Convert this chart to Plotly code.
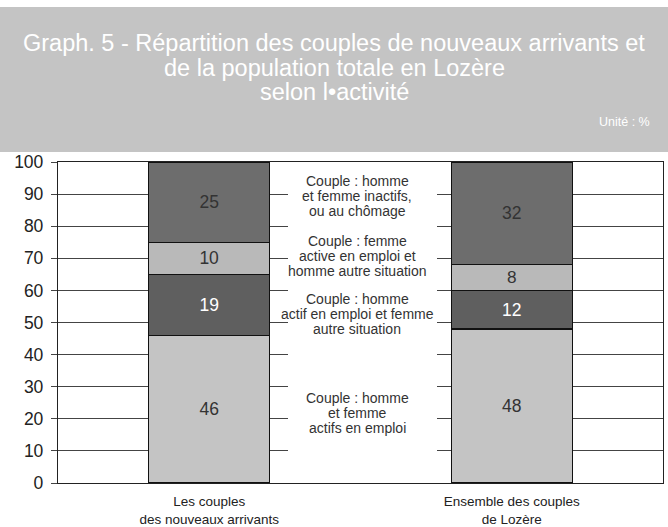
import plotly.graph_objects as go

# Categories (x axis) and stacked shares in %
categories = ["Les couples<br>des nouveaux arrivants", "Ensemble des couples<br>de Lozère"]
actifs_en_emploi = [46, 48]
homme_actif_emploi = [19, 12]
femme_active_emploi = [10, 8]
inactifs_chomage = [25, 32]

y_ticks = [0, 10, 20, 30, 40, 50, 60, 70, 80, 90, 100]

title_lines = [
    "Graph. 5 - Répartition des couples de nouveaux arrivants et",
    "de la population totale en Lozère",
    "selon l•activité",
]
unit_label = "Unité : %"

# Segment captions, bottom to top, with the y value of their middle line
segment_captions = [
    (["Couple : homme", "et femme", "actifs en emploi"], 21.7),
    (["Couple : homme", "actif en emploi et femme", "autre situation"], 52.8),
    (["Couple : femme", "active en emploi et", "homme autre situation"], 70.7),
    (["Couple : homme", "et femme inactifs,", "ou au chômage"], 89.3),
]

W, H = 668, 527
L, R, T, B = 58, 5, 162, 44
PW, PH = W - L - R, H - T - B


def px_x(x):
    return (x - L) / PW


def px_y(y):
    return (H - B - y) / PH


FONT = "Liberation Sans, Arial, sans-serif"

series = [
    (actifs_en_emploi, "#c4c4c4", "#333333"),
    (homme_actif_emploi, "#5f5f5f", "#ffffff"),
    (femme_active_emploi, "#b9b9b9", "#333333"),
    (inactifs_chomage, "#6d6d6d", "#333333"),
]

fig = go.Figure()
for values, color, txt_color in series:
    fig.add_trace(go.Bar(
        x=categories,
        y=values,
        text=[str(v) for v in values],
        textposition="inside",
        insidetextanchor="middle",
        textangle=0,
        textfont=dict(family=FONT, size=17.5, color=txt_color),
        marker=dict(color=color, line=dict(color="#111111", width=1.3)),
        showlegend=False,
        hoverinfo="skip",
    ))

shapes = [
    # grey title band
    dict(type="rect", xref="paper", yref="paper",
         x0=px_x(0), x1=px_x(W), y0=px_y(152), y1=px_y(7),
         fillcolor="#c4c4c4", line=dict(width=0), layer="above"),
    # blank strip between the bars that carries the captions
    dict(type="rect", xref="paper", yref="y",
         x0=px_x(288), x1=px_x(437), y0=2, y1=98,
         fillcolor="white", line=dict(width=0), layer="above"),
]

annotations = []
title_y = [43, 67.5, 92]
for line, yy in zip(title_lines, title_y):
    annotations.append(dict(
        text=line, xref="paper", yref="paper", x=px_x(W / 2), y=px_y(yy),
        xanchor="center", yanchor="middle", showarrow=False,
        font=dict(family=FONT, size=23.5, color="white"),
    ))
annotations.append(dict(
    text=unit_label, xref="paper", yref="paper", x=px_x(652), y=px_y(122),
    xanchor="right", yanchor="middle", showarrow=False,
    font=dict(family=FONT, size=12.5, color="white"),
))

for lines, ymid in segment_captions:
    for i, line in enumerate(lines):
        annotations.append(dict(
            text=line, xref="paper", yref="y", x=px_x(357), y=ymid,
            yshift=(1 - i) * 15, xanchor="center", yanchor="middle",
            showarrow=False,
            font=dict(family=FONT, size=14, color="#333333"),
        ))

fig.update_layout(
    width=W, height=H,
    margin=dict(l=L, r=R, t=T, b=B, autoexpand=False),
    paper_bgcolor="white", plot_bgcolor="white",
    barmode="stack", bargap=0.6,
    shapes=shapes, annotations=annotations,
    font=dict(family=FONT),
)
fig.update_xaxes(
    showgrid=False, showline=True, linecolor="#222222", linewidth=1.3,
    mirror=True, ticks="", ticklabelstandoff=6, automargin=False,
    tickfont=dict(family=FONT, size=13.5, color="#222222"),
)
fig.update_yaxes(
    range=[0, 100], tickvals=y_ticks, showgrid=True, gridcolor="#444444",
    gridwidth=1.2, showline=True, linecolor="#222222", linewidth=1.3,
    mirror=True, ticks="outside", ticklen=6, tickcolor="#444444",
    ticklabelstandoff=4, automargin=False,
    tickfont=dict(family=FONT, size=17.5, color="#222222"), zeroline=False,
)

fig.write_html("out.html")
